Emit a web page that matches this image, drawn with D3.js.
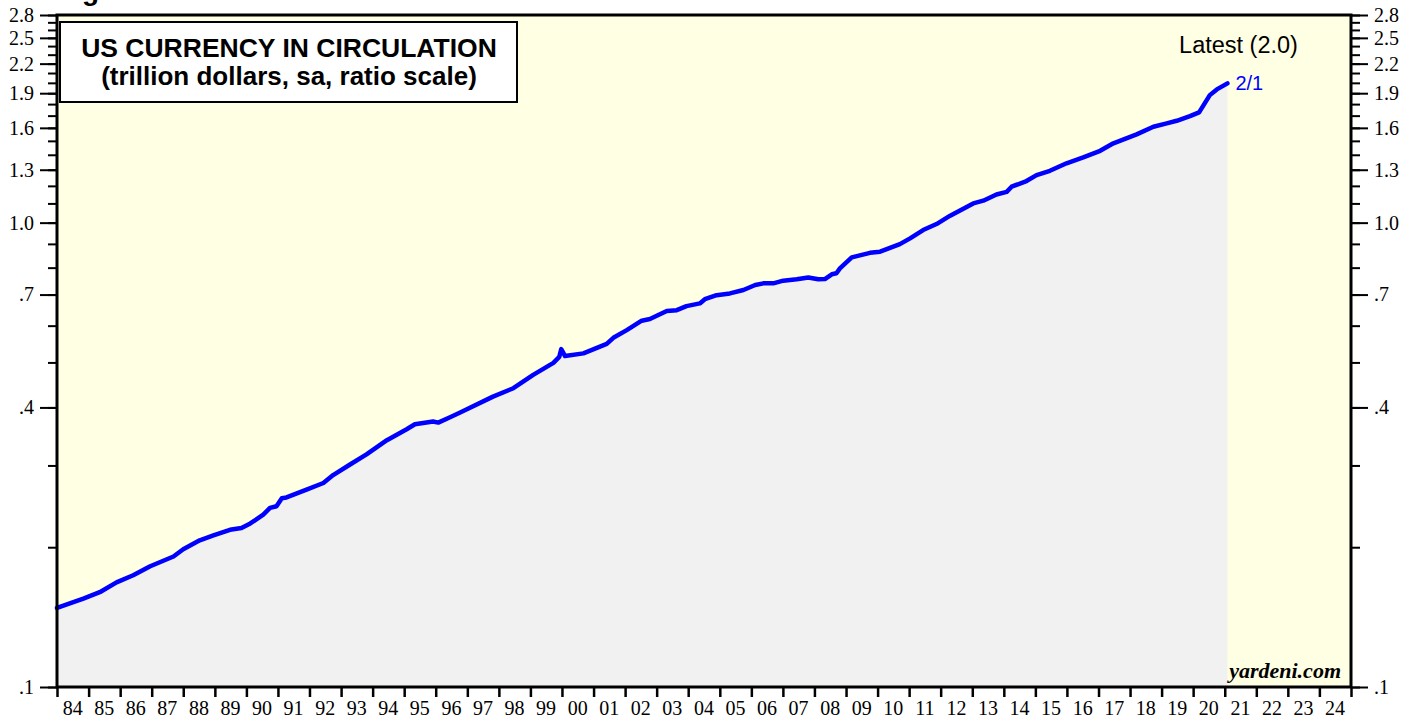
<!DOCTYPE html>
<html lang="en">
<head>
<meta charset="utf-8">
<title>US Currency in Circulation</title>
<script src="https://cdn.jsdelivr.net/npm/d3@7"></script>
<style>
  body{margin:0;background:#fff;}
  svg{display:block;font-family:"Liberation Sans",Arial,sans-serif;}
</style>
</head>
<body>
<div id="chart"></div>
<script>
// currency in circulation, trillion dollars
var dates = ["1984-01-01","1984-11-01","1985-05-10","1985-11-20","1986-06-01","1986-12-15","1987-09-10","1988-01-01",
  "1988-07-10","1988-12-15","1989-06-25","1989-11-05","1990-02-15","1990-07-15","1990-10-01","1990-12-15",
  "1991-02-15","1991-04-10","1991-11-28","1992-06-10","1992-10-01","1993-04-10","1993-10-22","1994-06-15",
  "1995-01-30","1995-05-05","1995-12-01","1996-01-30","1996-06-15","1996-10-10","1997-10-25","1998-06-18",
  "1999-02-02","1999-09-24","1999-12-01","1999-12-24","2000-02-06","2000-09-05","2001-06-02","2001-08-18",
  "2002-01-20","2002-07-12","2002-10-15","2003-04-28","2003-08-22","2003-12-12","2004-05-15","2004-07-12",
  "2004-11-25","2005-04-28","2005-10-01","2006-02-15","2006-05-20","2006-09-12","2007-01-05","2007-06-10",
  "2007-10-22","2008-02-15","2008-05-01","2008-07-20","2008-09-12","2008-10-22","2009-03-08","2009-10-05",
  "2010-01-30","2010-09-16","2011-01-12","2011-06-12","2011-11-14","2012-04-20","2013-01-12","2013-05-08",
  "2013-10-08","2014-02-03","2014-04-01","2014-09-20","2015-01-15","2015-06-18","2015-12-28","2016-07-08",
  "2017-01-20","2017-06-22","2018-03-18","2018-09-28","2019-03-01","2019-06-25","2019-11-25","2020-03-10",
  "2020-07-12","2020-10-01","2021-02-01"]
var values = [0.148,0.155,0.160,0.168,0.174,0.182,0.191,0.198,
  0.207,0.212,0.218,0.220,0.225,0.235,0.243,0.245,
  0.255,0.256,0.266,0.275,0.286,0.301,0.317,0.340,
  0.359,0.368,0.373,0.371,0.381,0.390,0.422,0.440,
  0.470,0.499,0.514,0.534,0.516,0.523,0.548,0.565,
  0.587,0.615,0.620,0.645,0.648,0.661,0.670,0.684,
  0.698,0.704,0.716,0.734,0.740,0.740,0.750,0.755,
  0.762,0.755,0.756,0.774,0.778,0.797,0.842,0.861,
  0.866,0.899,0.925,0.964,0.993,1.035,1.100,1.115,
  1.150,1.165,1.195,1.229,1.266,1.293,1.342,1.382,
  1.428,1.482,1.549,1.609,1.636,1.657,1.696,1.728,
  1.882,1.936,1.995]

var yMajor = [0.1, 0.4, 0.7, 1.0, 1.3, 1.6, 1.9, 2.2, 2.5, 2.8]
var yMinor = [0.1,0.2,0.3,0.4,0.5,0.6,0.7,0.8,0.9,1.0,1.1,1.2,1.3,1.4,1.5,1.6,1.7,1.8,1.9,2.0,2.1,2.2,2.3,2.4,2.5,2.6,2.7,2.8]
var years = d3.range(1984, 2026)
var latestLabel = "Latest (2.0)"
var latestDate = "2/1"

var margin = {top: 15, right: 66, bottom: 32, left: 57}
var w = 1417 - margin.left - margin.right
var h = 719 - margin.top - margin.bottom

var parse = d3.timeParse("%Y-%m-%d")
var data = dates.map(function(d, i){ return {date: parse(d), value: values[i]} })

var svg = d3.select("#chart").append("svg")
    .attr("width", 1417).attr("height", 719)

// heading above the chart, cropped at the top edge in the original
svg.append("text")
   .attr("x", 57).attr("y", 0)
   .attr("font-size", "28px").attr("font-weight", "bold")
   .text("Figure")

var g = svg.append("g")
    .attr("transform", "translate(" + margin.left + "," + margin.top + ")")

var x = d3.scaleTime()
    .domain([new Date(1984, 0, 1), new Date(2025, 0, 1)])
    .range([0, w])
var y = d3.scaleLog()
    .domain([0.1, 2.8])
    .range([h, 0])

g.append("rect")
 .attr("width", w).attr("height", h)
 .attr("fill", "#ffffe4")

var area = d3.area()
    .x(function(d){ return x(d.date) })
    .y0(h)
    .y1(function(d){ return y(d.value) })
g.append("path").datum(data)
 .attr("d", area)
 .attr("fill", "#f1f1f1")

var line = d3.line()
    .x(function(d){ return x(d.date) })
    .y(function(d){ return y(d.value) })
g.append("path").datum(data)
 .attr("d", line)
 .attr("fill", "none")
 .attr("stroke", "#0000ff")
 .attr("stroke-width", 4.5)
 .attr("stroke-linejoin", "round")
 .attr("stroke-linecap", "round")

// title box
g.append("rect")
 .attr("x", 3).attr("y", 7).attr("width", 457).attr("height", 80)
 .attr("fill", "#fff").attr("stroke", "#000").attr("stroke-width", 2)
g.append("text")
 .attr("x", 232).attr("y", 42)
 .attr("text-anchor", "middle").attr("font-weight", "bold").attr("font-size", "26.5px")
 .text("US CURRENCY IN CIRCULATION")
g.append("text")
 .attr("x", 232).attr("y", 70)
 .attr("text-anchor", "middle").attr("font-weight", "bold").attr("font-size", "26px")
 .text("(trillion dollars, sa, ratio scale)")

g.append("text")
 .attr("x", 1181.5).attr("y", 38)
 .attr("text-anchor", "middle").attr("font-size", "23.5px")
 .text(latestLabel)

var last = data[data.length - 1]
g.append("text")
 .attr("x", x(last.date) + 8).attr("y", y(last.value) + 7)
 .attr("font-size", "20px").attr("fill", "#0000ff")
 .text(latestDate)

g.append("text")
 .attr("x", w - 10).attr("y", h - 9)
 .attr("text-anchor", "end")
 .attr("font-family", "'Liberation Serif', 'Times New Roman', serif")
 .attr("font-weight", "bold").attr("font-style", "italic").attr("font-size", "22px")
 .text("yardeni.com")

// y axes
function fmt(d){
  var s = d3.format(".1f")(d)
  return d < 1 ? s.slice(1) : s
}
function styleAxis(sel){
  sel.select(".domain").remove()
  sel.attr("font-family", "'Liberation Serif', 'Times New Roman', serif")
     .attr("font-size", "20px")
  sel.selectAll("line").attr("stroke", "#000").attr("stroke-width", 2)
  sel.selectAll("text").attr("fill", "#000")
}
g.append("g").call(d3.axisLeft(y).tickValues(yMinor).tickSize(9).tickFormat("")).call(styleAxis)
g.append("g").call(d3.axisLeft(y).tickValues(yMajor).tickSize(17).tickPadding(6).tickFormat(fmt)).call(styleAxis)
g.append("g").attr("transform", "translate(" + w + ",0)")
 .call(d3.axisRight(y).tickValues(yMinor).tickSize(9).tickFormat("")).call(styleAxis)
g.append("g").attr("transform", "translate(" + w + ",0)")
 .call(d3.axisRight(y).tickValues(yMajor).tickSize(17).tickPadding(6).tickFormat(fmt)).call(styleAxis)

// x axis: ticks at year starts, labels centred in each year
var xAxis = g.append("g").attr("transform", "translate(0," + h + ")")
 .call(d3.axisBottom(x).tickValues(years.map(function(d){ return new Date(d, 0, 1) })).tickSize(10).tickFormat(""))
 .call(styleAxis)
xAxis.selectAll("line").attr("stroke-width", 2.5)

g.append("g")
 .attr("font-family", "'Liberation Serif', 'Times New Roman', serif")
 .attr("font-size", "20px")
 .selectAll("text")
 .data(years.slice(0, -1))
 .enter()
 .append("text")
 .attr("x", function(d){ return x(new Date(d, 6, 1)) })
 .attr("y", h + 28)
 .attr("text-anchor", "middle")
 .text(function(d){ return d3.timeFormat("%y")(new Date(d, 0, 1)) })

// frame
g.append("rect")
 .attr("width", w).attr("height", h)
 .attr("fill", "none").attr("stroke", "#000").attr("stroke-width", 3)
</script>
</body>
</html>
